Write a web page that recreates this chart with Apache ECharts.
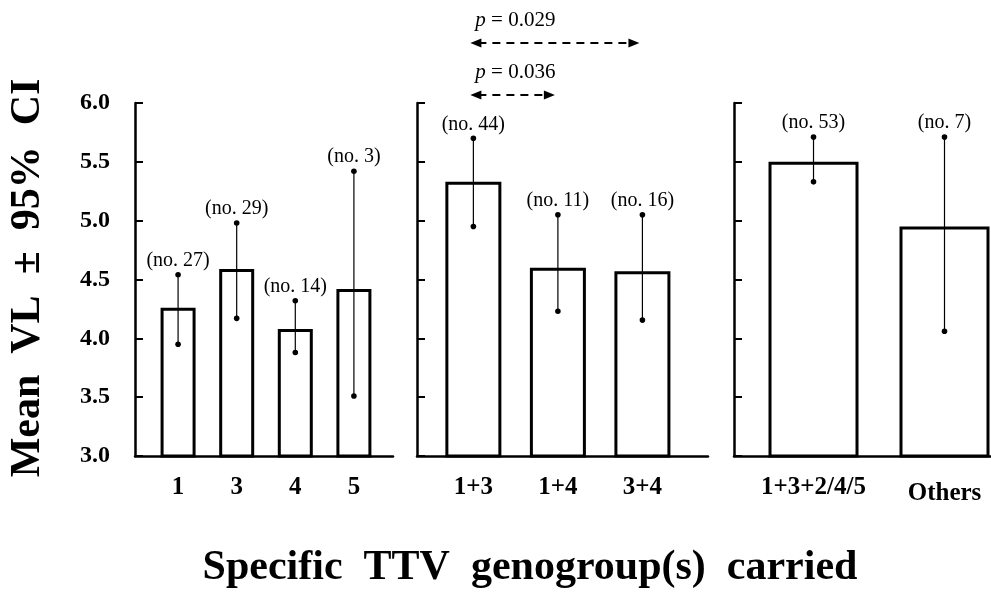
<!DOCTYPE html>
<html><head><meta charset="utf-8">
<script src="https://cdn.jsdelivr.net/npm/echarts@6/dist/echarts.min.js"></script>
<style>html,body{margin:0;padding:0;background:#fff}#c{width:991px;height:592px}</style>
</head><body><div id="c"></div>
<script>
const FONT = '"Liberation Serif", "Times New Roman", serif';
// Panel 1: single genogroups
const cats1 = ['1', '3', '4', '5'];
const mean1 = [4.26, 4.59, 4.08, 4.42];
const hi1 = [4.54, 4.98, 4.32, 5.42];
const lo1 = [3.95, 4.17, 3.88, 3.51];
const n1 = [27, 29, 14, 3];
// Panel 2: double genogroups
const cats2 = ['1+3', '1+4', '3+4'];
const mean2 = [5.33, 4.60, 4.57];
const hi2 = [5.70, 5.05, 5.05];
const lo2 = [4.95, 4.23, 4.155];
const n2 = [44, 11, 16];
// Panel 3
const cats3 = ['1+3+2/4/5', 'Others'];
const mean3 = [5.50, 4.95];
const hi3 = [5.71, 5.71];
const lo3 = [5.33, 4.06];
const n3 = [53, 7];
// p-value comparisons (panel 2, category indices)
const pValues = ['0.029', '0.036'];
const pFrom = [0, 0];
const pTo = [2, 1];
// y ticks
const yTicks = [3.0, 3.5, 4.0, 4.5, 5.0, 5.5, 6.0];

const panels = [
  {cats: cats1, mean: mean1, hi: hi1, lo: lo1, n: n1, grid: {left: 135, top: 103, width: 258, height: 353}, xmin: -0.735, xmax: 3.667, bw: 35},
  {cats: cats2, mean: mean2, hi: hi2, lo: lo2, n: n2, grid: {left: 417, top: 103, width: 291, height: 353}, xmin: -0.667, xmax: 2.776, bw: 56},
  {cats: cats3, mean: mean3, hi: hi3, lo: lo3, n: n3, grid: {left: 734, top: 103, width: 257, height: 353}, xmin: -0.607, xmax: 1.355, bw: 90}
];

const grid = [], xAxis = [], yAxis = [], series = [];
panels.forEach((p, i) => {
  grid.push(p.grid);
  xAxis.push({
    type: 'value', gridIndex: i, min: p.xmin, max: p.xmax,
    axisLine: {show: true, onZero: false, lineStyle: {color: '#000', width: 2.5}},
    axisTick: {show: false}, splitLine: {show: false},
    axisLabel: {
      customValues: p.cats.map((c, k) => k),
      margin: 19,
      formatter: v => {
        const c = p.cats[Math.round(v)];
        return c === 'Others' ? '{b|' + c + '}' : '{a|' + c + '}';
      },
      rich: {
        a: {fontFamily: FONT, fontWeight: 'bold', fontSize: 25, color: '#000'},
        b: {fontFamily: FONT, fontWeight: 'bold', fontSize: 25, color: '#000', padding: [6, 0, 0, 0]}
      }
    }
  });
  yAxis.push({
    type: 'value', gridIndex: i, min: 3, max: 6,
    axisLine: {show: true, onZero: false, lineStyle: {color: '#000', width: 2.5}},
    axisTick: {show: true, inside: true, length: 8, lineStyle: {color: '#000', width: 2}, customValues: yTicks},
    splitLine: {show: false},
    axisLabel: {
      show: i === 0, customValues: yTicks, margin: 25,
      formatter: v => v.toFixed(1),
      fontFamily: FONT, fontWeight: 'bold', fontSize: 24, color: '#000'
    }
  });
  series.push({
    type: 'bar', xAxisIndex: i, yAxisIndex: i, barWidth: p.bw, silent: true,
    data: p.mean.map((v, k) => [k, v]),
    itemStyle: {color: '#fff', borderColor: '#000', borderWidth: 3}
  });
  series.push({
    type: 'custom', xAxisIndex: i, yAxisIndex: i, clip: false, silent: true, z: 5,
    data: p.lo.map((l, k) => [k, l, p.hi[k], p.n[k]]),
    encode: {x: 0, y: [1, 2]},
    renderItem: (params, api) => {
      const x = api.value(0);
      const top = api.coord([x, api.value(2)]);
      const bot = api.coord([x, api.value(1)]);
      return {
        type: 'group',
        children: [
          {type: 'line', shape: {x1: top[0], y1: top[1], x2: bot[0], y2: bot[1]}, style: {stroke: '#000', lineWidth: 1.2}},
          {type: 'circle', shape: {cx: top[0], cy: top[1], r: 2.8}, style: {fill: '#000'}},
          {type: 'circle', shape: {cx: bot[0], cy: bot[1], r: 2.8}, style: {fill: '#000'}},
          {type: 'text', style: {x: top[0], y: top[1] - 14, text: '(no. ' + api.value(3) + ')',
            font: '20px ' + FONT, fill: '#000', align: 'center', verticalAlign: 'middle',
            textAlign: 'center', textVerticalAlign: 'middle'}}
        ]
      };
    }
  });
});

// p-value arrows on panel 2
series.push({
  type: 'custom', xAxisIndex: 1, yAxisIndex: 1, clip: false, silent: true, z: 6,
  data: pFrom.map((f, k) => [f, pTo[k], k]),
  encode: {x: [0, 1], y: 2},
  renderItem: (params, api) => {
    const k = api.value(2);
    const a = api.coord([api.value(0), 6]);
    const b = api.coord([api.value(1), 6]);
    const top = a[1];
    const ay = top - (k === 0 ? 60 : 8);
    const ty = ay - 23;
    const x0 = a[0] - 3, x1 = b[0] - 3;
    return {
      type: 'group',
      children: [
        {type: 'line', shape: {x1: x0 + 8, y1: ay, x2: x1 - 8, y2: ay}, style: {stroke: '#000', lineWidth: 2, lineDash: [8, 6]}},
        {type: 'polygon', shape: {points: [[x0, ay], [x0 + 11, ay - 4.5], [x0 + 11, ay + 4.5]]}, style: {fill: '#000'}},
        {type: 'polygon', shape: {points: [[x1, ay], [x1 - 11, ay - 4.5], [x1 - 11, ay + 4.5]]}, style: {fill: '#000'}},
        {type: 'text', style: {x: x0 + 5, y: ty, text: '{i|p}{r| = ' + pValues[k] + '}',
          rich: {i: {fontFamily: FONT, fontStyle: 'italic', fontSize: 21, fill: '#000'},
                 r: {fontFamily: FONT, fontSize: 21, fill: '#000'}},
          fill: '#000', align: 'left', verticalAlign: 'middle', textAlign: 'left', textVerticalAlign: 'middle'}}
      ]
    };
  }
});

const chart = echarts.init(document.getElementById('c'), null, {renderer: 'canvas'});
chart.setOption({
  animation: false,
  backgroundColor: '#fff',
  grid, xAxis, yAxis, series,
  graphic: [
    {type: 'text', x: 28, y: 278, rotation: Math.PI / 2,
      style: {text: 'Mean  VL  \u00b1  95%  CI', font: 'bold 42px ' + FONT, fill: '#000', align: 'center', verticalAlign: 'middle', textAlign: 'center', textVerticalAlign: 'middle'}},
    {type: 'text', x: 530, y: 568,
      style: {text: 'Specific  TTV  genogroup(s)  carried', font: 'bold 42px ' + FONT, fill: '#000', align: 'center', verticalAlign: 'middle', textAlign: 'center', textVerticalAlign: 'middle'}}
  ]
});
</script></body></html>
